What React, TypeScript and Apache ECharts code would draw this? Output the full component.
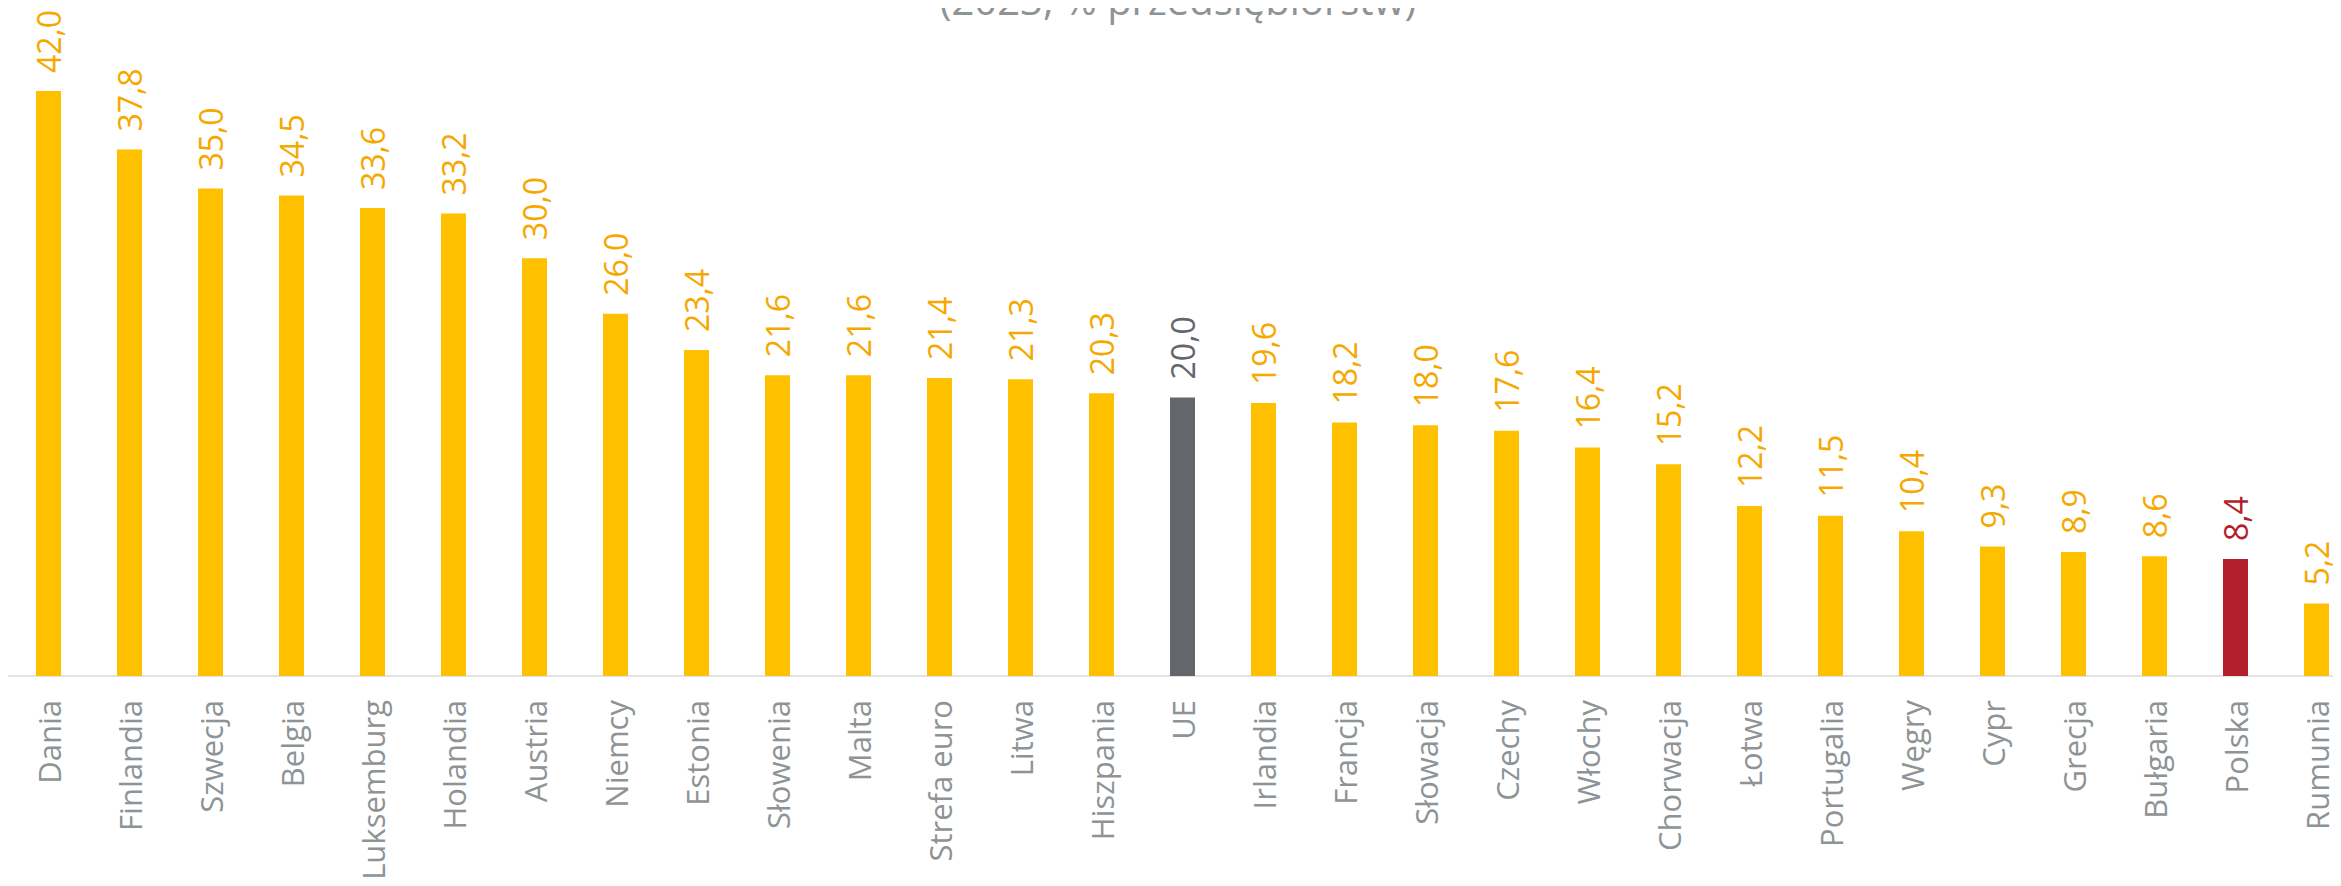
import React, { useEffect, useRef } from "react";
import * as echarts from "echarts";

const categories: string[] = [
  "Dania", "Finlandia", "Szwecja", "Belgia", "Luksemburg", "Holandia", "Austria", "Niemcy",
  "Estonia", "Słowenia", "Malta", "Strefa euro", "Litwa", "Hiszpania", "UE", "Irlandia",
  "Francja", "Słowacja", "Czechy", "Włochy", "Chorwacja", "Łotwa", "Portugalia", "Węgry",
  "Cypr", "Grecja", "Bułgaria", "Polska", "Rumunia",
];
const values: number[] = [
  42.0, 37.8, 35.0, 34.5, 33.6, 33.2, 30.0, 26.0, 23.4, 21.6, 21.6, 21.4, 21.3, 20.3, 20.0,
  19.6, 18.2, 18.0, 17.6, 16.4, 15.2, 12.2, 11.5, 10.4, 9.3, 8.9, 8.6, 8.4, 5.2,
];
const titleText = "(2023, % przedsiębiorstw)";
const highlightGray = "UE";
const highlightRed = "Polska";

const YELLOW = "#FFC000";
const YELLOW_LABEL = "#F5A800";
const GRAY = "#63666A";
const RED = "#B41F2D";
const AXIS_TEXT = "#8E9395";
const FONT = "Open Sans";

export default function App() {
  const ref = useRef<HTMLDivElement>(null);
  useEffect(() => {
    if (!ref.current) return;
    const chart = echarts.init(ref.current, undefined, { renderer: "svg" });
    const data = values.map((v, i) => {
      const c = categories[i];
      const bar = c === highlightGray ? GRAY : c === highlightRed ? RED : YELLOW;
      const lab = c === highlightGray ? GRAY : c === highlightRed ? RED : YELLOW_LABEL;
      return { value: v, itemStyle: { color: bar }, label: { color: lab } };
    });
    chart.setOption({
      animation: false,
      graphic: [
        {
          type: "text",
          x: 1178 - 8,
          y: 11,
          style: {
            text: titleText,
            fill: AXIS_TEXT,
            font: `40px "${FONT}"`,
            textAlign: "center",
            textVerticalAlign: "bottom",
          },
        },
      ],
      grid: {
        left: 0,
        top: 83,
        width: 81 * categories.length,
        height: 585,
        containLabel: false,
        outerBoundsMode: "none",
      },
      xAxis: {
        type: "category",
        data: categories,
        axisLine: { lineStyle: { color: "#E3E3E3", width: 2 } },
        axisTick: { show: false },
        axisLabel: {
          rotate: 90,
          interval: 0,
          margin: 24,
          color: AXIS_TEXT,
          fontFamily: FONT,
          fontSize: 31,
        },
      },
      yAxis: {
        type: "value",
        min: 0,
        max: 42,
        show: false,
        splitLine: { show: false },
      },
      series: [
        {
          type: "bar",
          data,
          barWidth: 25,
          label: {
            show: true,
            position: "top",
            rotate: 90,
            align: "left",
            verticalAlign: "middle",
            distance: 18,
            fontFamily: FONT,
            fontSize: 32,
            formatter: (p: any) => Number(p.value).toFixed(1).replace(".", ","),
          },
        },
      ],
    });
    return () => chart.dispose();
  }, []);
  return <div ref={ref} style={{ width: 2333, height: 878 }} />;
}
